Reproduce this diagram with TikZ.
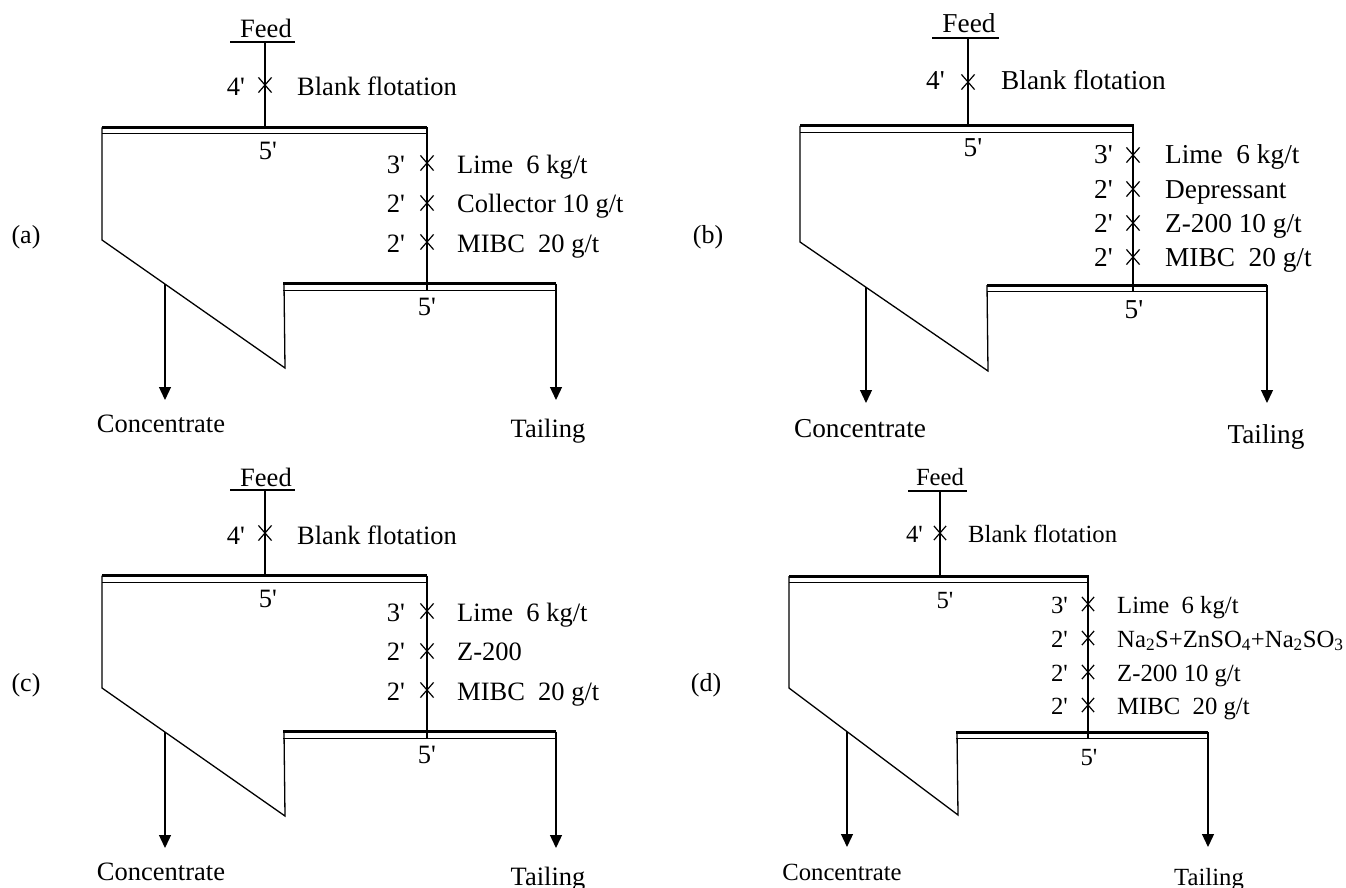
\documentclass[tikz,border=0pt]{standalone}
\usepackage{fontspec}
\setmainfont{Liberation Serif}[Ligatures=TeXOff]
\newcommand\fs[1]{\fontsize{#1}{#1}\selectfont}
\usetikzlibrary{arrows.meta,shapes.misc}
\tikzset{
 ln/.style={line width=1.3pt},
 bar/.style={line width=3pt},
 barthin/.style={line width=1pt},
 arr/.style={ln,-{Triangle[width=12pt,length=13pt]}},
 xm/.style={draw,cross out,line width=1.2pt,minimum width=12pt,minimum height=14pt,inner sep=0pt},
 lbl/.style={inner sep=0pt},
 plbl/.style={inner sep=0pt,anchor=base,font=\fs{26}},
}
\begin{document}
\begin{tikzpicture}[x=1pt,y=-1pt]
\useasboundingbox (0,0) rectangle (1346,888);

% ================= panel (a) and (c) =================
\foreach \p/\dy/\two in {a/0/{Collector 10 g/t}, c/448/{Z-200}}{
\begin{scope}[shift={(0,\dy)},font=\fs{26.5}]
\node[lbl,anchor=base] (\p Feed) at (266,38) {Feed};
\coordinate (\p U1) at (230,42); \coordinate (\p U2) at (295,42);
\draw[ln] (\p U1) -- (\p U2);
\coordinate (\p Ft) at (265,42); \coordinate (\p Fb) at (265,127.5);
\draw[ln] (\p Ft) -- (\p Fb);
\node[xm] (\p X0) at (265,85) {};
\node[lbl,anchor=base east] (\p T0) at (245,96) {4'};
\node[lbl,anchor=base west] (\p R0) at (297,96) {Blank flotation};
% top launder
\coordinate (\p TL) at (102,127.5); \coordinate (\p TR) at (427,127.5);
\draw[bar] (\p TL) -- (\p TR);
\draw[barthin] (102,134) -- (427,134);
\node[lbl,anchor=base] (\p F1) at (268,159) {5'};
% cell outline
\coordinate (\p C1) at (102,240); \coordinate (\p C2) at (285,368); \coordinate (\p C3) at (284,283.5);
\draw[ln,line join=miter] (\p TL) -- (\p C1) -- (\p C2) -- (\p C3);
\coordinate (\p RB) at (427,290);
\draw[ln] (\p TR) -- (\p RB);
% lower launder
\coordinate (\p LL) at (283,283.5); \coordinate (\p LR) at (556,283.5);
\draw[bar] (\p LL) -- (\p LR);
\draw[barthin] (283,290) -- (556,290);
\node[lbl,anchor=base] (\p F2) at (427,315) {5'};
% reagents
\node[xm] (\p X1) at (427,163) {};
\node[xm] (\p X2) at (427,203) {};
\node[xm] (\p X3) at (427,242) {};
\node[lbl,anchor=base east] (\p T1) at (405,173) {3'};
\node[lbl,anchor=base east] (\p T2) at (405,212) {2'};
\node[lbl,anchor=base east] (\p T3) at (405,252) {2'};
\node[lbl,anchor=base west] (\p R1) at (457,173) {Lime\ \ 6 kg/t};
\node[lbl,anchor=base west] (\p R2) at (457,212) {\two};
\node[lbl,anchor=base west] (\p R3) at (457,252) {MIBC\ \ 20 g/t};
% outputs
\coordinate (\p Cs) at (165,284); \coordinate (\p Ce) at (165,400);
\draw[arr] (\p Cs) -- (\p Ce);
\coordinate (\p Ts) at (556,283.5); \coordinate (\p Te) at (556,400);
\draw[arr] (\p Ts) -- (\p Te);
\node[lbl,anchor=base] (\p Conc) at (161,432) {Concentrate};
\node[lbl,anchor=base] (\p Tail) at (548,437) {Tailing};
\node[plbl] (\p Lab) at (26,243) {(\p)};
\end{scope}
}

% ================= panel (b) =================
\begin{scope}[font=\fs{27.3}]
\node[lbl,anchor=base] (bFeed) at (969,33) {Feed};
\coordinate (bU1) at (932,38); \coordinate (bU2) at (999,38);
\draw[ln] (bU1) -- (bU2);
\coordinate (bFt) at (968,38); \coordinate (bFb) at (968,126);
\draw[ln] (bFt) -- (bFb);
\node[xm] (bX0) at (968,82) {};
\node[lbl,anchor=base east] (bT0) at (945,90) {4'};
\node[lbl,anchor=base west] (bR0) at (1001,90) {Blank flotation};
\coordinate (bTL) at (800,126); \coordinate (bTR) at (1134,126);
\draw[bar] (bTL) -- (bTR);
\draw[barthin] (800,132.5) -- (1134,132.5);
\node[lbl,anchor=base] (bF1) at (973,157) {5'};
\coordinate (bC1) at (800,242); \coordinate (bC2) at (988,371); \coordinate (bC3) at (987,285);
\draw[ln,line join=miter] (bTL) -- (bC1) -- (bC2) -- (bC3);
\coordinate (bRT) at (1133,126); \coordinate (bRB) at (1133,292);
\draw[ln] (bRT) -- (bRB);
\coordinate (bLL) at (987,285); \coordinate (bLR) at (1267,285);
\draw[bar] (bLL) -- (bLR);
\draw[barthin] (987,291.5) -- (1267,291.5);
\node[lbl,anchor=base] (bF2) at (1134,318) {5'};
\node[xm] (bX1) at (1133,155) {};
\node[xm] (bX2) at (1133,189) {};
\node[xm] (bX3) at (1133,223) {};
\node[xm] (bX4) at (1133,257) {};
\node[lbl,anchor=base east] (bT1) at (1113,164) {3'};
\node[lbl,anchor=base east] (bT2) at (1113,198) {2'};
\node[lbl,anchor=base east] (bT3) at (1113,232) {2'};
\node[lbl,anchor=base east] (bT4) at (1113,266) {2'};
\node[lbl,anchor=base west] (bR1) at (1165,164) {Lime\ \ 6 kg/t};
\node[lbl,anchor=base west] (bR2) at (1165,198) {Depressant};
\node[lbl,anchor=base west] (bR3) at (1165,232) {Z-200 10 g/t};
\node[lbl,anchor=base west] (bR4) at (1165,266) {MIBC\ \ 20 g/t};
\coordinate (bCs) at (866,287); \coordinate (bCe) at (866,403);
\draw[arr] (bCs) -- (bCe);
\coordinate (bTs) at (1267,285); \coordinate (bTe) at (1267,403);
\draw[arr] (bTs) -- (bTe);
\node[lbl,anchor=base] (bConc) at (860,437) {Concentrate};
\node[lbl,anchor=base] (bTail) at (1266,443) {Tailing};
\node[plbl] (bLab) at (708,243) {(b)};
\end{scope}

% ================= panel (d) =================
\begin{scope}[font=\fs{24.7}]
\node[lbl,anchor=base] (dFeed) at (940,485) {Feed};
\coordinate (dU1) at (908,491); \coordinate (dU2) at (967,491);
\draw[ln] (dU1) -- (dU2);
\coordinate (dFt) at (940,491); \coordinate (dFb) at (940,576);
\draw[ln] (dFt) -- (dFb);
\node[xm,minimum width=11pt,minimum height=13pt] (dX0) at (940,533) {};
\node[lbl,anchor=base east] (dT0) at (923,542) {4'};
\node[lbl,anchor=base west] (dR0) at (968,542) {Blank flotation};
\coordinate (dTL) at (789,576); \coordinate (dTR) at (1089,576);
\draw[bar] (dTL) -- (dTR);
\draw[barthin] (789,582.5) -- (1089,582.5);
\node[lbl,anchor=base] (dF1) at (945,608) {5'};
\coordinate (dC1) at (789,688); \coordinate (dC2) at (958,815); \coordinate (dC3) at (957,732);
\draw[ln,line join=miter] (dTL) -- (dC1) -- (dC2) -- (dC3);
\coordinate (dRT) at (1088,576); \coordinate (dRB) at (1088,739);
\draw[ln] (dRT) -- (dRB);
\coordinate (dLL) at (956,732); \coordinate (dLR) at (1208,732);
\draw[bar] (dLL) -- (dLR);
\draw[barthin] (956,738.5) -- (1208,738.5);
\node[lbl,anchor=base] (dF2) at (1089,765) {5'};
\foreach \i/\yy in {1/604,2/638,3/672,4/705}{
  \node[xm,minimum width=11pt,minimum height=13pt] (dX\i) at (1088,\yy) {};
}
\node[lbl,anchor=base east] (dT1) at (1068,613) {3'};
\node[lbl,anchor=base east] (dT2) at (1068,647) {2'};
\node[lbl,anchor=base east] (dT3) at (1068,681) {2'};
\node[lbl,anchor=base east] (dT4) at (1068,714) {2'};
\node[lbl,anchor=base west] (dR1) at (1117,613) {Lime\ \ 6 kg/t};
\node[lbl,anchor=base west] (dR2) at (1117,647) {Na\textsubscript{2}S+ZnSO\textsubscript{4}+Na\textsubscript{2}SO\textsubscript{3}};
\node[lbl,anchor=base west] (dR3) at (1117,681) {Z-200 10 g/t};
\node[lbl,anchor=base west] (dR4) at (1117,714) {MIBC\ \ 20 g/t};
\coordinate (dCs) at (847,732); \coordinate (dCe) at (847,847);
\draw[arr] (dCs) -- (dCe);
\coordinate (dTs) at (1208,732); \coordinate (dTe) at (1208,847);
\draw[arr] (dTs) -- (dTe);
\node[lbl,anchor=base] (dConc) at (842,880) {Concentrate};
\node[lbl,anchor=base] (dTail) at (1209,885) {Tailing};
\node[plbl] (dLab) at (706,691) {(d)};
\end{scope}
\end{tikzpicture}
\end{document}
